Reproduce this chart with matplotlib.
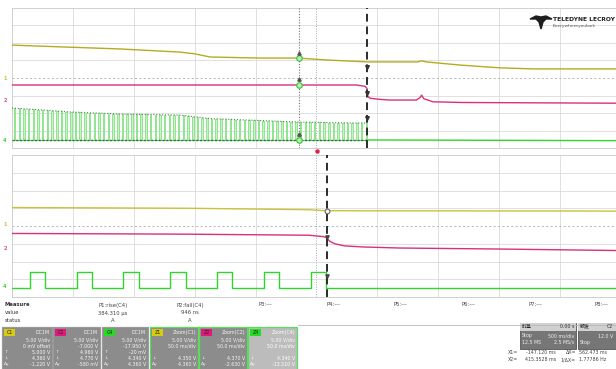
import numpy as np
import matplotlib
matplotlib.use("Agg")
import matplotlib.pyplot as plt
from matplotlib.patches import Rectangle, Polygon
from matplotlib.lines import Line2D

W, H = 616, 369
fig = plt.figure(figsize=(6.16, 3.69), dpi=100)
fig.patch.set_facecolor("white")

# ---------------- data (time in ms, level in screen volts, 5 V/div) ----------------
top_xlim = (-2500, 2459)          # 500 ms/div
zoom_xlim = (157, 653)            # 50 ms/div
top_grid_step = 500
zoom_grid_step = 50
zoom_center = 407

yellow_top_t = [-2500, -2106, -1613, -1121, -998, -874, -464, -160, 111, 415, 830, 864, 900, 1178, 1506, 1777, 2459]
yellow_top_v = [9.4, 8.9, 8.3, 7.4, 6.9, 6.0, 5.7, 5.7, 5.1, 4.6, 4.6, 4.9, 4.6, 3.7, 2.9, 2.6, 2.6]

pink_top_t = [-2500, 330, 400, 415, 420, 440, 520, 600, 820, 850, 864, 880, 957, 1200, 2459]
pink_top_v = [-2.0, -2.0, -2.4, -3.0, -5.2, -5.8, -6.1, -6.3, -6.3, -5.6, -4.9, -5.9, -6.8, -7.0, -7.2]

green_env_t = [-2500, -2350, -2020, -1610, -1120, -1000, -870, -500, -140, 415]
green_env_v = [-8.6, -8.9, -9.7, -10.3, -10.6, -11.1, -11.6, -12.1, -12.6, -12.9]
green_low_top = -17.7
green_after_t = [415, 2459]
green_after_v = [-17.7, -17.9]

pulse_period = 38.5
pulse_width = 12.5
last_fall = 415

yellow_zoom_t = [157, 300, 400, 415, 653]
yellow_zoom_v = [5.2, 5.0, 4.6, 4.3, 4.2]
pink_zoom_t = [157, 300, 401, 413, 415, 418, 422, 430, 445, 475, 560, 653]
pink_zoom_v = [-2.1, -2.3, -2.6, -3.0, -3.3, -4.3, -5.0, -5.6, -5.9, -6.2, -6.5, -6.9]
green_zoom_high = -13.0
green_zoom_low = -17.5

x1_ms = -147.12
x2_ms = 415.35

measure_labels = ["Measure", "value", "status"]
measure_cols = [("P1:rise(C4)", "384.310 µs", "A"), ("P2:fall(C4)", "946 ns", "A"),
                ("P3:---", "", ""), ("P4:---", "", ""), ("P5:---", "", ""),
                ("P6:---", "", ""), ("P7:---", "", ""), ("P8:---", "", "")]

channel_tags = ["C1", "C2", "C4", "Z1", "Z2", "Z4"]
channel_heads = ["DC1M", "DC1M", "DC1M", "Zoom(C1)", "Zoom(C2)", "Zoom(C4)"]
channel_rows = [
    ["5.00 V/div", "0 mV offset", "5.000 V", "4.360 V", "-1.220 V"],
    ["5.00 V/div", "-7.000 V", "4.960 V", "4.770 V", "-580 mV"],
    ["5.00 V/div", "-17.950 V", "-20 mV", "4.340 V", "4.360 V"],
    ["5.00 V/div", "50.0 ms/div", "", "4.350 V", "4.360 V"],
    ["5.00 V/div", "50.0 ms/div", "", "4.370 V", "-2.630 V"],
    ["5.00 V/div", "50.0 ms/div", "", "4.340 V", "-13.510 V"],
]

# ---------------- colours ----------------
YEL = "#b4ac1e"
YEL2 = "#c9c23a"
PINK = "#d8307c"
GRN = "#2ed62e"
GRN_L = "#8fe68f"
GRID = "#dadada"


def fx(px):
    return px / W


def fy(py):
    return 1 - py / H


def style_axes(ax, xlim, step, center):
    ax.set_xlim(*xlim)
    ax.set_ylim(-20, 20)
    ax.set_xticks([])
    ax.set_yticks([])
    for s in ax.spines.values():
        s.set_color("#cfcfcf")
        s.set_linewidth(0.7)
    g = xlim[0] + step
    while g < xlim[1]:
        if abs(g - center) < 1e-6:
            ax.axvline(g, color="#a8a8a8", lw=0.7, ls=(0, (1, 1.5)), zorder=0)
        else:
            ax.axvline(g, color=GRID, lw=0.6, zorder=0)
        g += step
    for v in range(-15, 20, 5):
        if v == 0:
            ax.axhline(v, color="#b4b4b4", lw=0.7, ls=(0, (2, 2.5)), zorder=0)
        else:
            ax.axhline(v, color=GRID, lw=0.6, zorder=0)


# ---------------- top panel ----------------
ax_t = fig.add_axes([fx(12), fy(148), fx(616) - fx(12), 140 / H])
style_axes(ax_t, top_xlim, top_grid_step, 0)

rises = np.arange(last_fall - pulse_width, top_xlim[0] - 1, -pulse_period)[::-1]
pt, pv = [top_xlim[0]], [green_low_top]
for r in rises:
    hi = np.interp(r, green_env_t, green_env_v)
    f = min(r + pulse_width, last_fall)
    pt += [r, r, f, f]
    pv += [green_low_top, hi, hi, green_low_top]
ax_t.fill_between(pt, green_low_top, pv, color="#c6f2c6", lw=0, zorder=1)
ax_t.plot(pt, pv, color=GRN_L, lw=0.7, zorder=2)
ax_t.plot(green_env_t, green_env_v, color="#4a8a4a", lw=0.8, ls=(0, (1, 1.6)), zorder=3)
ax_t.plot([top_xlim[0], last_fall], [green_low_top] * 2, color="#2e6e2e", lw=1.0,
          ls=(0, (1.5, 1.2)), zorder=3)
ax_t.plot([top_xlim[0], last_fall], [green_low_top] * 2, color=GRN, lw=0.5, zorder=2)
ax_t.plot(green_after_t, green_after_v, color=GRN, lw=1.0, zorder=3)
ax_t.plot(yellow_top_t, yellow_top_v, color=YEL, lw=1.0, zorder=3)
ax_t.plot(pink_top_t, pink_top_v, color=PINK, lw=1.0, zorder=3)

# cursors (top)
ax_t.axvline(x1_ms, color="#707070", lw=0.8, ls=(0, (1, 1.5)), zorder=4)
ax_t.axvline(x2_ms, color="#2a2a2a", lw=1.4, ls=(0, (4, 2.5)), zorder=4)
for tt, vv in ((yellow_top_t, yellow_top_v), (pink_top_t, pink_top_v), (green_env_t[:1] + [415], [green_low_top] * 2)):
    yv = np.interp(x1_ms, tt, vv)
    ax_t.plot([x1_ms], [yv], "o", ms=4, mfc="#b6f2b6", mec="#38c038", mew=0.8, zorder=5)
    ax_t.plot([x1_ms], [yv + 1.6], "^", ms=2.4, color="#555555", zorder=5)
for tt, vv in ((yellow_top_t, yellow_top_v), (pink_top_t, pink_top_v)):
    yv = np.interp(x2_ms - 3, tt, vv)
    ax_t.plot([x2_ms], [yv - 1.4], "v", ms=2.6, color="#333333", zorder=5)
ax_t.plot([x2_ms], [-11.5], "v", ms=2.6, color="#333333", zorder=5)

# ---------------- zoom panel ----------------
ax_z = fig.add_axes([fx(12), fy(297), fx(616) - fx(12), 142 / H])
style_axes(ax_z, zoom_xlim, zoom_grid_step, zoom_center)

zr = np.arange(last_fall - pulse_width, zoom_xlim[0] - 1, -pulse_period)[::-1]
zt, zv = [zoom_xlim[0]], [green_zoom_low]
for r in zr:
    f = min(r + pulse_width, last_fall)
    zt += [r, r, f, f]
    zv += [green_zoom_low, green_zoom_high, green_zoom_high, green_zoom_low]
zt.append(zoom_xlim[1])
zv.append(green_zoom_low)
ax_z.plot(zt, zv, color=GRN, lw=1.0, zorder=3)
ax_z.plot(yellow_zoom_t, yellow_zoom_v, color=YEL2, lw=1.0, zorder=3)
ax_z.plot(pink_zoom_t, pink_zoom_v, color=PINK, lw=1.0, zorder=3)
ax_z.axvline(x2_ms, color="#2a2a2a", lw=1.4, ls=(0, (4, 2.5)), zorder=4)
ax_z.plot([x2_ms], [np.interp(x2_ms, yellow_zoom_t, yellow_zoom_v)], "o", ms=3.5,
          mfc="#f4f4f4", mec="#555555", mew=0.7, zorder=5)
ax_z.plot([x2_ms], [np.interp(x2_ms - 1, pink_zoom_t, pink_zoom_v)], "v", ms=2.4, color="#444444", zorder=5)
ax_z.plot([x2_ms], [-14.2], "v", ms=2.4, color="#444444", zorder=5)

# trigger marker between panels
fig.add_artist(Line2D([fx(316.5)], [fy(151)], marker="o", ms=2.2, color="#e0204a",
                      transform=fig.transFigure))

# channel tags at left edge
for py, txt, col in ((78, "1", "#c8c040"), (101, "2", "#e05090"), (140, "4", "#40d040"),
                     (225, "1", "#c8c040"), (248, "2", "#e05090"), (287, "4", "#40d040")):
    fig.text(fx(5), fy(py), txt, fontsize=3.6, color=col, ha="center", va="center", weight="bold")

# ---------------- logo ----------------
logo = [(530, 19), (536, 16), (541, 17), (546, 16), (552, 19), (546, 19), (543, 22),
        (541, 29), (539, 22), (536, 19)]
fig.add_artist(Polygon([(fx(a), fy(b)) for a, b in logo], closed=True, color="#1e1e1e",
                       transform=fig.transFigure))
fig.text(fx(553), fy(19.5), "TELEDYNE LECROY", fontsize=4.3, weight="bold", color="#222222",
         ha="left", va="center", family="Liberation Sans Narrow")
fig.text(fx(553), fy(26), "Everywhereyoulook", fontsize=3.2, color="#555555",
         ha="left", va="center")

# ---------------- measurement table ----------------
for i, lab in enumerate(measure_labels):
    fig.text(fx(5), fy(305 + 8 * i), lab, fontsize=3.8, color="#333333", ha="left", va="center",
             weight="bold" if i == 0 else "normal")
col_x = [113, 190, 265, 333, 400, 468, 535, 601]
for cx, (a, b, c) in zip(col_x, measure_cols):
    for i, s in enumerate((a, b, c)):
        if s:
            fig.text(fx(cx), fy(305 + 8 * i), s, fontsize=3.8, color="#444444", ha="center", va="center")
fig.add_artist(Line2D([fx(298), fx(616)], [fy(325), fy(325)], color="#b8b8b8", lw=0.6,
                      transform=fig.transFigure))

# ---------------- channel boxes ----------------
box_x = [(2, 52), (53, 100), (102, 148), (150, 198), (199, 247), (248, 297)]
tag_col = ["#d8cc10", "#e0187c", "#22dd22", "#d8cc10", "#e0187c", "#22dd22"]
for k, (x0, x1) in enumerate(box_x):
    face = "#bcbcbc" if k == 5 else "#8c8c8c"
    edge = "#5cdc5c" if k >= 3 else "#9a9a9a"
    fig.add_artist(Rectangle((fx(x0), fy(372)), fx(x1) - fx(x0), (372 - 327) / H,
                             facecolor=face, edgecolor=edge, lw=0.9, transform=fig.transFigure))
    fig.add_artist(Rectangle((fx(x0 + 2), fy(336)), 11 / W, 7 / H, facecolor=tag_col[k],
                             edgecolor="none", transform=fig.transFigure))
    fig.text(fx(x0 + 7.5), fy(332.5), channel_tags[k], fontsize=3.4, color="#222222",
             ha="center", va="center")
    tc = "#f4f4f4" if k < 5 else "#ffffff"
    fig.text(fx(x1 - 2), fy(332.5), channel_heads[k], fontsize=3.4, color=tc, ha="right", va="center")
    for i, s in enumerate(channel_rows[k]):
        if s:
            fig.text(fx(x1 - 2), fy(340 + 6 * i), s, fontsize=3.4, color=tc, ha="right", va="center")
    for i, s in ((2, "↑"), (3, "↓"), (4, "Δy")):
        if channel_rows[k][i]:
            fig.text(fx(x0 + 2), fy(340 + 6 * i), s, fontsize=3.2, color=tc, ha="left", va="center")

# ---------------- timebase / trigger boxes ----------------
cjk = ["Noto Sans CJK SC", "DejaVu Sans"]
boxes = (((520, 576), 574, "时基", "0.00 s", ("Stop", "500 ms/div"), ("12.5 MS", "2.5 MS/s")),
         ((578, 640), 613, "触发", "C2", ("", "12.0 V"), ("Stop", "")))
for (x0, x1), xr, head_l, head_r, r1, r2 in boxes:
    fig.add_artist(Rectangle((fx(x0), fy(349)), (x1 - x0) / W, 26 / H, facecolor="#767676",
                             edgecolor="#555555", lw=0.6, transform=fig.transFigure))
    fig.add_artist(Rectangle((fx(x0), fy(331)), (x1 - x0) / W, 8 / H, facecolor="#d0d0d0",
                             edgecolor="none", transform=fig.transFigure))
    fig.text(fx(x0 + 2), fy(327), head_l, fontsize=3.6, color="#222222", ha="left", va="center", family=cjk)
    fig.text(fx(xr), fy(327), head_r, fontsize=3.4, color="#333333", ha="right", va="center")
    for j, (a, b) in enumerate((r1, r2)):
        fig.text(fx(x0 + 2), fy(336 + 6.5 * j), a, fontsize=3.4, color="#f0f0f0", ha="left", va="center")
        fig.text(fx(xr), fy(336 + 6.5 * j), b, fontsize=3.4, color="#f0f0f0", ha="right", va="center")

for py, items in ((352.5, (("X1=", 508, "left"), ("-147.120 ms", 556, "right"), ("ΔX=", 576, "right"), ("562.473 ms", 579, "left"))),
                  (359.5, (("X2=", 508, "left"), ("415.3528 ms", 556, "right"), ("1/ΔX=", 576, "right"), ("1.77786 Hz", 579, "left")))):
    for s, px, ha in items:
        fig.text(fx(px), fy(py), s, fontsize=3.4, color="#444444", ha=ha, va="center")

fig.savefig("out.png", dpi=100, facecolor="white")
